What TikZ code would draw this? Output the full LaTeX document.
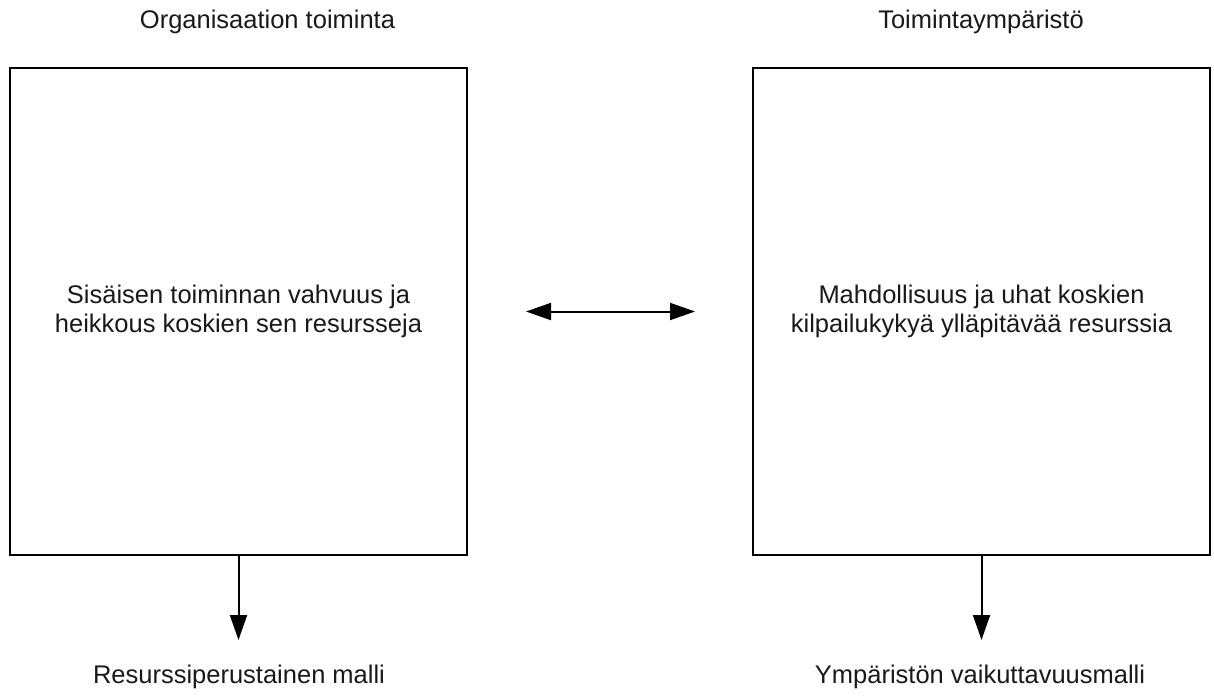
\documentclass[tikz,border=0pt]{standalone}
\usepackage{fontspec}
\setmainfont{Liberation Sans}
\usetikzlibrary{arrows.meta}
\begin{document}
\begin{tikzpicture}[x=1pt,y=-1pt,
  txt/.style={font=\fontsize{25.5}{28.5}\selectfont, text=black!90, inner sep=0pt},
  panel/.style={draw=black, line width=2pt, minimum width=457pt, minimum height=487pt,
    align=center, font=\fontsize{25.5}{28.5}\selectfont, text=black!90, inner sep=0pt},
  conn/.style={draw=black, line width=2pt, -{Triangle[length=25pt,width=17pt]}},
  biconn/.style={draw=black, line width=2pt, {Triangle[length=25pt,width=17pt]}-{Triangle[length=25pt,width=17pt]}}
]
\useasboundingbox (0,0) rectangle (1214,696);

% titles above the panels
\node[txt] (ttlL) at (267.5,22) {Organisaation toiminta};
\node[txt] (ttlR) at (981,22) {Toimintaympäristö};

% the two panels
\node[panel] (orgbox) at (238.5,311.5) {Sisäisen toiminnan vahvuus ja\\heikkous koskien sen resursseja};
\node[panel] (envbox) at (981.5,311.5) {Mahdollisuus ja uhat koskien\\kilpailukykyä ylläpitävää resurssia};

% interaction between the panels
\draw[biconn, shorten <=58pt, shorten >=57pt] (orgbox.east) -- (envbox.west);

% resulting models
\coordinate (tipL) at (238.5,640);
\coordinate (tipR) at (981.5,640);
\draw[conn] (orgbox.south) -- (tipL);
\draw[conn] (envbox.south) -- (tipR);

\node[txt] (modL) at (239,677) {Resurssiperustainen malli};
\node[txt] (modR) at (980,677) {Ympäristön vaikuttavuusmalli};
\end{tikzpicture}
\end{document}
